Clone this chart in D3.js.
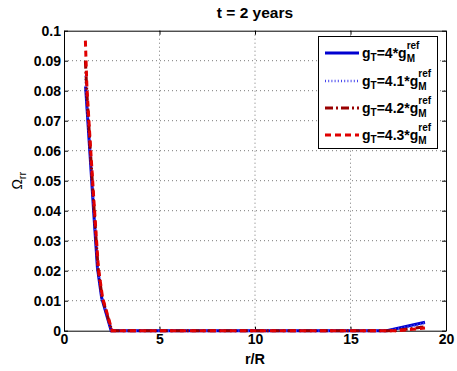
<!DOCTYPE html>
<html>
<head>
<meta charset="utf-8">
<script src="https://cdn.jsdelivr.net/npm/d3@7"></script>
<style>
  html, body { margin: 0; padding: 0; background: #fff; }
  svg { display: block; font-family: "Liberation Sans", Arial, Helvetica, sans-serif; }
</style>
</head>
<body>
<svg id="chart" width="457" height="371"></svg>
<script>
// Radial strain component Omega_rr versus r/R at t = 2 years, for four g_T factors
const factors = ["4", "4.1", "4.2", "4.3"];

const seriesG40 = [[1.13, 0.0814], [1.35, 0.060], [1.55, 0.040], [1.75, 0.021], [1.97, 0.011], [2.47, 0], [5, 0], [10, 0], [15, 0], [16.9, 0], [18.9, 0.0028]];
const seriesG41 = [[1.13, 0.0850], [1.20, 0.0750], [1.36, 0.060], [1.56, 0.040], [1.76, 0.021], [1.98, 0.011], [2.48, 0], [5, 0], [10, 0], [15, 0], [17.0, 0], [18.9, 0.0025]];
const seriesG42 = [[1.12, 0.0900], [1.20, 0.0790], [1.38, 0.060], [1.58, 0.040], [1.78, 0.021], [2.00, 0.011], [2.50, 0], [5, 0], [10, 0], [15, 0], [17.3, 0], [18.9, 0.0013]];
const seriesG43 = [[1.12, 0.0967], [1.20, 0.0810], [1.40, 0.060], [1.60, 0.040], [1.80, 0.021], [2.02, 0.011], [2.52, 0], [5, 0], [10, 0], [15, 0], [17.5, 0], [18.9, 0.0009]];

const xTicks = [0, 5, 10, 15, 20];
const yTicks = [0, 0.01, 0.02, 0.03, 0.04, 0.05, 0.06, 0.07, 0.08, 0.09, 0.1];

const svg = d3.select("#chart");
const mLeft = 64, mRight = 446, mTop = 30.7, mBottom = 330.7;

const x = d3.scaleLinear().domain([0, 20]).range([mLeft, mRight]);
const y = d3.scaleLinear().domain([0, 0.1]).range([mBottom, mTop]);

// dotted grid
const grid = svg.append("g").attr("stroke", "#555").attr("stroke-width", 0.8).attr("stroke-dasharray", "1,3");
grid.selectAll(".gx").data(xTicks.slice(1, -1)).join("line")
  .attr("x1", d => x(d)).attr("x2", d => x(d)).attr("y1", mTop).attr("y2", mBottom);
grid.selectAll(".gy").data(yTicks.slice(1, -1)).join("line")
  .attr("x1", mLeft).attr("x2", mRight).attr("y1", d => y(d)).attr("y2", d => y(d));

// axes with inward ticks, labels on left and bottom
const fmtY = d => d === 0 ? "0" : d3.format(".2~f")(d);
const axB = svg.append("g").attr("transform", `translate(0,${mBottom})`)
  .call(d3.axisBottom(x).tickValues(xTicks).tickSizeInner(-4).tickSizeOuter(0).tickPadding(3));
const axT = svg.append("g").attr("transform", `translate(0,${mTop})`)
  .call(d3.axisTop(x).tickValues(xTicks).tickSizeInner(-4).tickSizeOuter(0).tickFormat(""));
const axL = svg.append("g").attr("transform", `translate(${mLeft},0)`)
  .call(d3.axisLeft(y).tickValues(yTicks).tickFormat(fmtY).tickSizeInner(-4).tickSizeOuter(0).tickPadding(3));
const axR = svg.append("g").attr("transform", `translate(${mRight},0)`)
  .call(d3.axisRight(y).tickValues(yTicks).tickSizeInner(-4).tickSizeOuter(0).tickFormat(""));
[axB, axT, axL, axR].forEach(a => {
  a.select(".domain").attr("stroke", "#000").attr("stroke-width", 1);
  a.selectAll(".tick line").attr("stroke", "#000");
  a.selectAll("text").attr("fill", "#000").attr("font-size", 14).attr("font-weight", "bold")
    .attr("font-family", "Liberation Sans, Arial, sans-serif");
});

// curves
const line = d3.line().x(d => x(d[0])).y(d => y(d[1]));
const styles = [
  { data: seriesG40, color: "#0000d0", width: 3, dash: null },
  { data: seriesG41, color: "#4646ee", width: 2.5, dash: "1,2.2" },
  { data: seriesG42, color: "#990000", width: 3, dash: "8,3,2,3" },
  { data: seriesG43, color: "#e00000", width: 3, dash: "6,4" }
];
const plot = svg.append("g");
styles.forEach(s => {
  plot.append("path").datum(s.data).attr("d", line)
    .attr("fill", "none").attr("stroke", s.color).attr("stroke-width", s.width)
    .attr("stroke-dasharray", s.dash);
});

// title and axis labels
svg.append("text").attr("x", (mLeft + mRight) / 2).attr("y", 17.5).attr("text-anchor", "middle")
  .attr("font-size", 15.5).attr("font-weight", "bold").text("t = 2 years");
svg.append("text").attr("x", (mLeft + mRight) / 2).attr("y", 364).attr("text-anchor", "middle")
  .attr("font-size", 14.5).attr("font-weight", "bold").text("r/R");
const yl = svg.append("text").attr("transform", `translate(22,${(mTop + mBottom) / 2}) rotate(-90)`)
  .attr("text-anchor", "middle").attr("font-size", 14);
yl.append("tspan").text("Ω");
yl.append("tspan").attr("font-size", 11).attr("dy", 4).text("rr");

// legend
const lg = svg.append("g");
lg.append("rect").attr("x", 318.5).attr("y", 36.5).attr("width", 119).attr("height", 112)
  .attr("fill", "#fff").attr("stroke", "#000").attr("stroke-width", 1);
const rowsY = [53, 81, 108, 135];
styles.forEach((s, i) => {
  const ry = rowsY[i];
  lg.append("line").attr("x1", 325).attr("x2", 359).attr("y1", ry).attr("y2", ry)
    .attr("stroke", s.color).attr("stroke-width", s.width).attr("stroke-dasharray", s.dash);
  const t = lg.append("text").attr("x", 362).attr("y", ry + 5)
    .attr("font-size", 14).attr("font-weight", "bold");
  t.append("tspan").text("g");
  t.append("tspan").attr("font-size", 10).attr("dy", 3).text("T");
  t.append("tspan").attr("dy", -3).text(`=${factors[i]}*g`);
  const w = t.node().getComputedTextLength();
  lg.append("text").attr("x", 362 + w).attr("y", ry - 4).attr("font-size", 10).attr("font-weight", "bold").text("ref");
  lg.append("text").attr("x", 362 + w).attr("y", ry + 9).attr("font-size", 10).attr("font-weight", "bold").text("M");
});
</script>
</body>
</html>
